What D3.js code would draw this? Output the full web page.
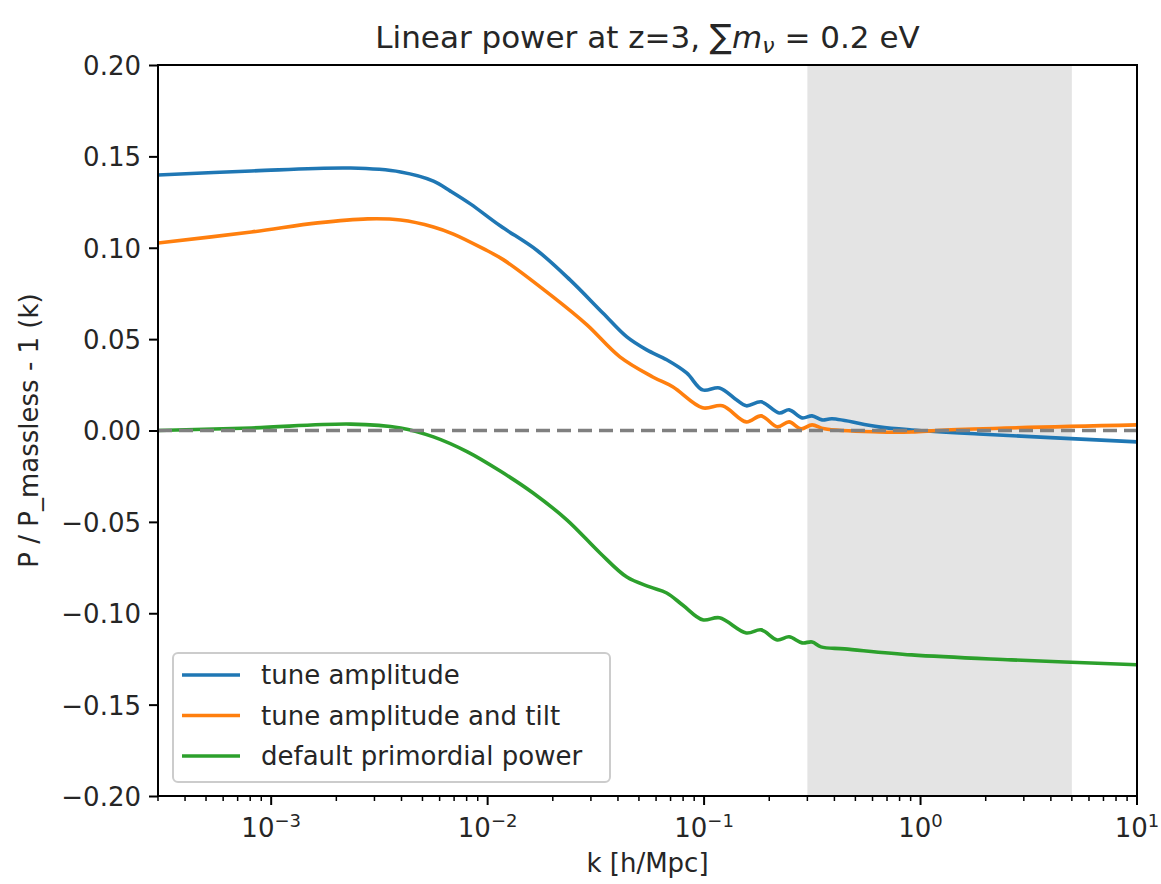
<!DOCTYPE html>
<html>
<head>
<meta charset="utf-8">
<script src="https://cdn.jsdelivr.net/npm/d3@7"></script>
<style>
  html, body { margin: 0; padding: 0; background: #fff; }
  svg { display: block; font-family: "DejaVu Sans", sans-serif; }
</style>
</head>
<body>
<svg id="chart" width="1161" height="884"></svg>
<script>
// Ratio of linear power with massive neutrinos to the massless case, z = 3
const kTune = [3e-4, 8.1e-4, 2.33e-3, 3.96e-3, 5.62e-3, 6.73e-3, 8.32e-3, 0.01143, 0.01693, 0.02402, 0.03406,
  0.04397, 0.05432, 0.06717, 0.08304, 0.0984, 0.1178, 0.141, 0.1567, 0.1836, 0.2223, 0.2471,
  0.2837, 0.3154, 0.3508, 0.3901, 0.6413, 0.9097, 1.851, 10];
const valTune = [0.1398, 0.1420, 0.1436, 0.1415, 0.1365, 0.1310, 0.1240, 0.1120, 0.0985, 0.0824, 0.0643,
  0.0512, 0.0441, 0.0387, 0.0315, 0.0222, 0.0233, 0.0168, 0.0135, 0.0157, 0.0096, 0.0113,
  0.0069, 0.0080, 0.0058, 0.0064, 0.0020, 0.0003, -0.0019, -0.0062];

const kTilt = [3e-4, 8.1e-4, 1.64e-3, 2.79e-3, 3.96e-3, 5.62e-3, 6.95e-3, 9.55e-3, 0.0118, 0.02005,
  0.02877, 0.04083, 0.05793, 0.07161, 0.0984, 0.1216, 0.1567, 0.1836, 0.218, 0.2471, 0.28,
  0.3154, 0.36, 0.6413, 0.9097, 1.306, 10];
const valTilt = [0.1026, 0.1086, 0.1136, 0.1158, 0.1152, 0.1114, 0.1075, 0.0995, 0.0935, 0.0731,
  0.0578, 0.0403, 0.0293, 0.0239, 0.0124, 0.0135, 0.0047, 0.0080, 0.0020, 0.0047, 0.0009,
  0.0031, 0.0009, -0.0008, -0.0008, 0.0003, 0.0031];

const kDefault = [3e-4, 8.1e-4, 2.33e-3, 3.96e-3, 5.62e-3, 8.07e-3, 0.01143, 0.01622, 0.02328,
  0.03304, 0.04397, 0.0561, 0.06717, 0.0796, 0.0984, 0.1178, 0.1567, 0.1836, 0.2178, 0.2471,
  0.2837, 0.3154, 0.3466, 0.4453, 0.9097, 2.626, 10];
const valDefault = [0.0, 0.0014, 0.0035, 0.0014, -0.0035, -0.0117, -0.0222, -0.0342, -0.0490,
  -0.0670, -0.0802, -0.0856, -0.0889, -0.0955, -0.1036, -0.1025, -0.1108, -0.1091, -0.1146, -0.1129,
  -0.1162, -0.1157, -0.1184, -0.1195, -0.1228, -0.1255, -0.1282];

const seriesNames = ["tune amplitude", "tune amplitude and tilt", "default primordial power"];
const seriesColors = ["#1f77b4", "#ff7f0e", "#2ca02c"];
const yTicks = [-0.20, -0.15, -0.10, -0.05, 0.00, 0.05, 0.10, 0.15, 0.20];
const xDecades = [-3, -2, -1, 0, 1];
const kDomain = [3e-4, 10];
const valueDomain = [-0.2, 0.2];
const shadedRange = [0.3, 5];

const svg = d3.select("#chart");
const margin = { top: 65, right: 24, bottom: 88, left: 158 };
const W = 1161, H = 884;
const iw = W - margin.left - margin.right;
const ih = H - margin.top - margin.bottom;

const x = d3.scaleLog().domain(kDomain).range([0, iw]);
const y = d3.scaleLinear().domain(valueDomain).range([ih, 0]);

const g = svg.append("g").attr("transform", `translate(${margin.left},${margin.top})`);

g.append("defs").append("clipPath").attr("id", "plotClip")
  .append("rect").attr("width", iw).attr("height", ih);

// Shaded k range
g.append("rect")
  .attr("x", x(shadedRange[0])).attr("y", 0)
  .attr("width", x(shadedRange[1]) - x(shadedRange[0])).attr("height", ih)
  .attr("fill", "#e4e4e4");

const plot = g.append("g").attr("clip-path", "url(#plotClip)");

const line = d3.line()
  .x(d => x(d[0])).y(d => y(d[1]))
  .curve(d3.curveCatmullRom.alpha(0.5));

const series = [
  d3.zip(kTune, valTune),
  d3.zip(kTilt, valTilt),
  d3.zip(kDefault, valDefault)
];

series.forEach((s, i) => {
  plot.append("path")
    .datum(s)
    .attr("d", line)
    .attr("fill", "none")
    .attr("stroke", seriesColors[i])
    .attr("stroke-width", 3.6)
    .attr("stroke-linejoin", "round")
    .attr("stroke-linecap", "butt");
});

// Zero reference
plot.append("line")
  .attr("x1", 0).attr("x2", iw)
  .attr("y1", y(0)).attr("y2", y(0))
  .attr("stroke", "#808080")
  .attr("stroke-width", 3.6)
  .attr("stroke-dasharray", "14,7");

// Axes
const fontSize = 26;

const yAxis = d3.axisLeft(y).tickValues(yTicks).tickSize(9).tickPadding(8)
  .tickFormat(d => d3.format(".2f")(d).replace("-", "\u2212"));
const yG = g.append("g").call(yAxis);
yG.select(".domain").remove();
yG.selectAll(".tick line").attr("stroke", "#000").attr("stroke-width", 2);
yG.selectAll(".tick text").attr("font-size", fontSize).attr("fill", "#262626")
  .attr("font-family", "DejaVu Sans").attr("dy", "0.36em");

// X axis: major decades with superscript labels, minor ticks between
const minorK = [];
for (let e = -4; e <= 1; e++) {
  for (let m = 2; m <= 9; m++) {
    const v = m * Math.pow(10, e);
    if (v >= kDomain[0] && v <= kDomain[1]) minorK.push(v);
  }
}
const xG = g.append("g").attr("transform", `translate(0,${ih})`);
xG.selectAll("line.minor").data(minorK).enter().append("line")
  .attr("class", "minor")
  .attr("x1", d => x(d)).attr("x2", d => x(d))
  .attr("y1", 0).attr("y2", 5)
  .attr("stroke", "#000").attr("stroke-width", 1.5);
const majors = xG.selectAll("g.major").data(xDecades).enter().append("g")
  .attr("class", "major")
  .attr("transform", d => `translate(${x(Math.pow(10, d))},0)`);
majors.append("line").attr("y1", 0).attr("y2", 9)
  .attr("stroke", "#000").attr("stroke-width", 2);
const lbl = majors.append("text")
  .attr("y", 41)
  .attr("text-anchor", "middle")
  .attr("font-size", fontSize)
  .attr("fill", "#262626");
lbl.append("tspan").text("10");
lbl.append("tspan")
  .attr("font-size", 18)
  .attr("dy", -10)
  .text(d => String(d).replace("-", "\u2212"));

// Frame
g.append("rect")
  .attr("width", iw).attr("height", ih)
  .attr("fill", "none").attr("stroke", "#000").attr("stroke-width", 2);

// Axis titles
svg.append("text")
  .attr("x", margin.left + iw / 2).attr("y", 872)
  .attr("text-anchor", "middle").attr("font-size", fontSize).attr("fill", "#262626")
  .text("k [h/Mpc]");
svg.append("text")
  .attr("transform", `translate(38,${margin.top + ih / 2}) rotate(-90)`)
  .attr("text-anchor", "middle").attr("font-size", fontSize).attr("fill", "#262626")
  .text("P / P_massless - 1 (k)");

// Title
const title = svg.append("text")
  .attr("x", margin.left + iw / 2).attr("y", 48)
  .attr("text-anchor", "middle").attr("font-size", 31).attr("fill", "#262626");
title.append("tspan").text("Linear power at z=3, ");
title.append("tspan").attr("font-size", 33).text("\u2211");
title.append("tspan").attr("font-style", "italic").text("m");
title.append("tspan").attr("font-style", "italic").attr("font-size", 22).attr("dy", 5).text("\u03bd");
title.append("tspan").attr("dy", -5).text(" = 0.2 eV");

// Legend
const legend = g.append("g").attr("transform", `translate(${173 - margin.left},${653 - margin.top})`);
legend.append("rect")
  .attr("width", 437).attr("height", 129)
  .attr("rx", 5).attr("ry", 5)
  .attr("fill", "rgba(255,255,255,0.8)")
  .attr("stroke", "#cccccc").attr("stroke-width", 2);
seriesNames.forEach((name, i) => {
  const yy = 22 + i * 40.5;
  legend.append("line")
    .attr("x1", 9).attr("x2", 67).attr("y1", yy).attr("y2", yy)
    .attr("stroke", seriesColors[i]).attr("stroke-width", 3.6);
  legend.append("text")
    .attr("x", 88).attr("y", yy).attr("dy", "0.36em")
    .attr("font-size", fontSize).attr("fill", "#262626")
    .text(name);
});
</script>
</body>
</html>
